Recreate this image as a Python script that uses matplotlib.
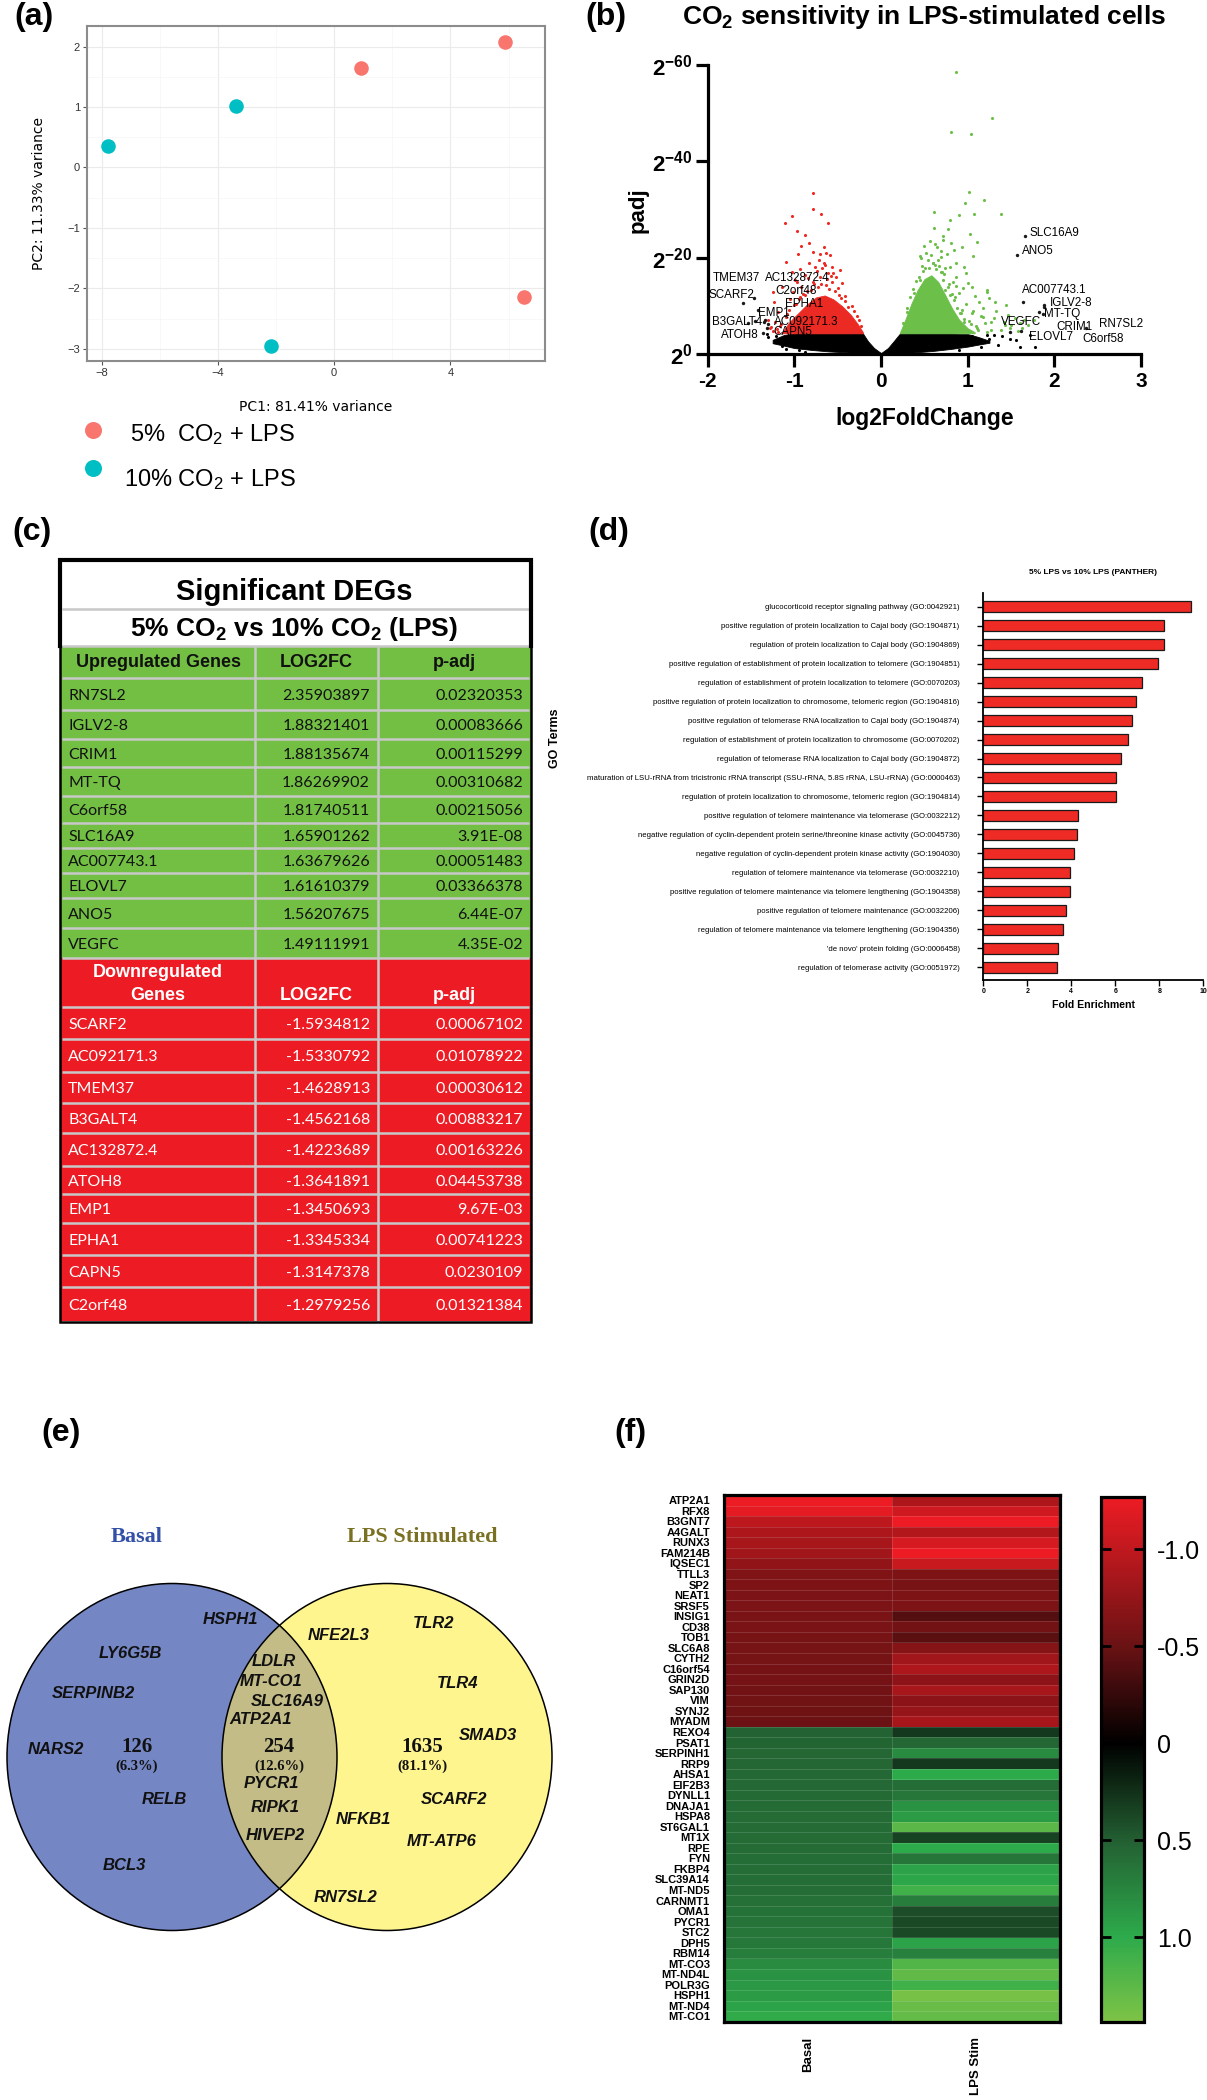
import numpy as np
import matplotlib
matplotlib.use('Agg')
import matplotlib.pyplot as plt
from matplotlib.patches import Ellipse, Rectangle
from matplotlib.colors import LinearSegmentedColormap, Normalize

W, H = 1207, 2100
plt.rcParams['font.family'] = ['Liberation Sans', 'DejaVu Sans']
plt.rcParams['mathtext.fontset'] = 'custom'
plt.rcParams['mathtext.rm'] = 'Liberation Sans'
plt.rcParams['mathtext.bf'] = 'Liberation Sans:bold'
plt.rcParams['mathtext.it'] = 'Liberation Sans:italic'
plt.rcParams['mathtext.sf'] = 'Liberation Sans'

# ======================= DATA =======================
# (a) PCA
pca_labels = ['5%  CO$_2$ + LPS', '10% CO$_2$ + LPS']
pca_pc1_5 = [0.91, 5.88, 6.53]
pca_pc2_5 = [1.64, 2.08, -2.14]
pca_pc1_10 = [-7.78, -3.38, -2.16]
pca_pc2_10 = [0.35, 1.02, -2.96]

# (c) table / (b) labelled genes
up_genes = ['RN7SL2', 'IGLV2-8', 'CRIM1', 'MT-TQ', 'C6orf58', 'SLC16A9',
            'AC007743.1', 'ELOVL7', 'ANO5', 'VEGFC']
up_lfc = ['2.35903897', '1.88321401', '1.88135674', '1.86269902', '1.81740511',
          '1.65901262', '1.63679626', '1.61610379', '1.56207675', '1.49111991']
up_padj = ['0.02320353', '0.00083666', '0.00115299', '0.00310682', '0.00215056',
           '3.91E-08', '0.00051483', '0.03366378', '6.44E-07', '4.35E-02']
down_genes = ['SCARF2', 'AC092171.3', 'TMEM37', 'B3GALT4', 'AC132872.4',
              'ATOH8', 'EMP1', 'EPHA1', 'CAPN5', 'C2orf48']
down_lfc = ['-1.5934812', '-1.5330792', '-1.4628913', '-1.4562168', '-1.4223689',
            '-1.3641891', '-1.3450693', '-1.3345334', '-1.3147378', '-1.2979256']
down_padj = ['0.00067102', '0.01078922', '0.00030612', '0.00883217', '0.00163226',
             '0.04453738', '9.67E-03', '0.00741223', '0.0230109', '0.01321384']

# (b) volcano: dense clouds (envelopes) and sparse points
black_x = [-1.25, -1.12, -1.0, -0.8, -0.6, -0.4, -0.21, -0.15, -0.08, 0.0,
           0.08, 0.15, 0.22, 0.4, 0.6, 0.8, 1.0, 1.12, 1.25]
black_top = [3.0, 4.0, 4.35, 4.35, 4.35, 4.35, 4.35, 2.7, 1.3, 0.25,
             1.3, 2.8, 4.35, 4.35, 4.35, 4.35, 4.2, 3.6, 2.8]
black_bot = [2.3, 1.8, 1.3, 0.9, 0.6, 0.4, 0.25, 0.15, 0.05, 0.0,
             0.05, 0.15, 0.25, 0.4, 0.7, 1.1, 1.6, 2.0, 2.4]
red_core_x = [-1.14, -1.05, -0.95, -0.85, -0.75, -0.65, -0.55, -0.45, -0.35, -0.27, -0.21]
red_core_top = [4.6, 6.8, 8.6, 10.4, 11.8, 12.2, 11.4, 10.0, 8.2, 6.3, 4.6]
green_core_x = [0.22, 0.28, 0.35, 0.42, 0.5, 0.58, 0.66, 0.74, 0.82, 0.9, 1.0, 1.08]
green_core_top = [4.6, 7.2, 10.5, 13.3, 15.6, 16.4, 15.0, 12.3, 9.5, 7.2, 5.4, 4.6]
red_pts_x = [-0.786, -0.786, -0.696, -1.031, -0.607, -1.112, -0.964, -0.875, -0.92, -0.66,
             -0.585, -0.83, -1.10, -0.72, -0.56, -1.03, -0.47, -1.14, -1.25, -1.23,
             -1.19, -1.30, -1.28, -1.19, -0.99, -0.92, -0.83, -0.76, -0.96, -0.65,
             -0.61, -0.52, -0.70, -0.62, -0.50, -0.42, -0.33, -0.28, -0.90, -1.00,
             -1.08, -1.15, -0.77, -0.85, -0.95, -0.58, -1.20, -1.25, -1.02, -0.88, -0.68,
             -1.10, -1.06, -0.98, -0.93, -0.88, -0.81, -0.79, -0.73, -0.69, -0.64,
             -0.60, -0.57, -0.53, -0.49, -0.46, -0.41, -0.38, -0.31, -0.25, -0.23,
             -1.17, -1.22, -1.27, -0.84, -0.74, -0.66, -0.93, -0.97, -0.55, -0.45,
             -1.05, -0.70, -0.78, -0.63]
red_pts_y = [33.5, 30.1, 29.0, 28.7, 27.3, 27.3, 25.6, 24.7, 22.5, 22.3,
             20.6, 23.0, 19.2, 19.6, 18.2, 17.1, 17.5, 14.0, 13.0, 10.9,
             8.85, 7.1, 5.4, 4.7, 15.4, 14.0, 18.9, 18.2, 20.9, 18.5,
             16.8, 16.1, 16.0, 15.7, 13.8, 12.0, 10.0, 8.0, 12.5, 10.2,
             8.3, 6.2, 14.6, 13.2, 11.4, 16.3, 5.2, 4.8, 13.0, 16.5, 17.8,
             7.8, 9.1, 10.4, 11.9, 12.3, 13.4, 14.9, 13.9, 14.6, 14.3,
             13.6, 14.9, 13.2, 12.3, 11.6, 11.0, 9.8, 8.9, 7.2, 5.8,
             5.9, 6.6, 5.7, 15.8, 17.2, 18.9, 17.6, 15.0, 16.8, 14.8,
             11.5, 20.8, 21.3, 21.0]
green_pts_x = [0.866, 1.277, 0.808, 1.036, 1.013, 1.188, 0.964, 0.607, 0.902, 1.067,
               1.379, 0.79, 0.777, 0.71, 1.031, 1.11, 0.933, 0.844, 1.058, 0.464,
               0.598, 0.799, 0.955, 0.688, 0.866, 1.0, 1.223, 0.821, 1.313, 1.134,
               1.446, 0.911, 1.045, 1.179, 1.469, 1.268, 1.424, 0.955, 1.112, 1.268,
               1.491, 1.603, 1.759, 1.22, 0.643, 0.554, 0.42, 0.732, 1.045, 0.643,
               0.688, 1.22, 0.30, 0.38, 0.45, 0.55, 0.62, 0.70, 0.78, 0.85,
               0.93, 1.02, 1.10, 0.48, 0.66, 0.74, 0.83, 0.90, 0.98, 1.15,
               1.20, 1.30, 1.38, 1.55, 1.62, 1.70, 0.52, 0.56, 0.69, 0.58, 0.76, 0.87,
               0.25, 0.30, 0.33, 0.37, 0.40, 0.44, 0.47, 0.51, 0.54, 0.60,
               0.63, 0.67, 0.71, 0.73, 0.77, 0.80, 0.84, 0.88, 0.92, 0.96,
               1.04, 1.12, 1.06, 0.95, 0.86, 0.45, 0.50, 0.62, 0.72, 0.81,
               0.61, 1.18, 1.25, 1.33, 1.42, 1.50, 1.58, 1.65, 0.98, 1.08]
green_pts_y = [58.6, 49.1, 46.2, 45.7, 33.6, 32.0, 31.4, 29.6, 28.9, 29.0,
               29.0, 27.9, 25.9, 23.8, 24.9, 23.2, 22.3, 21.6, 20.4, 19.9,
               18.9, 18.2, 18.2, 17.1, 16.1, 14.7, 13.0, 12.6, 10.9, 10.9,
               10.2, 8.5, 8.5, 7.8, 8.2, 6.8, 6.1, 6.8, 5.4, 5.0,
               5.4, 6.4, 7.1, 4.6, 9.2, 12.6, 9.2, 13.3, 14.0, 22.3,
               20.2, 13.3, 9.5, 12.8, 15.5, 18.0, 18.6, 17.0, 14.5, 11.8,
               9.2, 7.0, 5.8, 17.2, 19.5, 18.0, 15.0, 12.8, 10.5, 8.0,
               6.5, 7.6, 5.0, 7.5, 5.5, 6.0, 21.0, 23.5, 21.5, 20.5, 20.8, 19.0,
               6.4, 8.8, 11.9, 13.6, 15.2, 16.1, 18.4, 17.9, 19.6, 18.9,
               17.7, 18.3, 15.4, 16.6, 13.9, 12.4, 11.3, 9.5, 8.6, 7.3,
               6.3, 5.1, 8.9, 13.7, 14.2, 20.3, 22.5, 22.8, 24.5, 23.0,
               26.2, 9.7, 11.6, 9.0, 6.8, 6.0, 4.9, 7.2, 16.9, 12.1]
black_pts_x = [-1.143, -1.031, -0.92, 1.781, 1.482, 1.156, 1.223, 1.045, 0.955, -1.21,
               -1.32, -1.30, -1.22, -1.10, -0.95, 1.05, 1.25, 1.35, 1.40, 1.30,
               1.15, -0.88, 0.90, 1.56, 1.60, 1.72]
black_pts_y = [1.73, 3.0, 2.3, 1.6, 3.1, 3.0, 4.0, 3.7, 2.3, 3.7,
               4.2, 3.6, 2.6, 1.2, 0.8, 2.7, 3.2, 1.9, 3.8, 4.1,
               1.6, 0.5, 0.9, 2.9, 1.5, 4.1]

# (d) GO enrichment
go_terms = [
    'glucocorticoid receptor signaling pathway (GO:0042921)',
    'positive regulation of protein localization to Cajal body (GO:1904871)',
    'regulation of protein localization to Cajal body (GO:1904869)',
    'positive regulation of establishment of protein localization to telomere (GO:1904851)',
    'regulation of establishment of protein localization to telomere (GO:0070203)',
    'positive regulation of protein localization to chromosome, telomeric region (GO:1904816)',
    'positive regulation of telomerase RNA localization to Cajal body (GO:1904874)',
    'regulation of establishment of protein localization to chromosome (GO:0070202)',
    'regulation of telomerase RNA localization to Cajal body (GO:1904872)',
    'maturation of LSU-rRNA from tricistronic rRNA transcript (SSU-rRNA, 5.8S rRNA, LSU-rRNA) (GO:0000463)',
    'regulation of protein localization to chromosome, telomeric region (GO:1904814)',
    'positive regulation of telomere maintenance via telomerase (GO:0032212)',
    'negative regulation of cyclin-dependent protein serine/threonine kinase activity (GO:0045736)',
    'negative regulation of cyclin-dependent protein kinase activity (GO:1904030)',
    'regulation of telomere maintenance via telomerase (GO:0032210)',
    'positive regulation of telomere maintenance via telomere lengthening (GO:1904358)',
    'positive regulation of telomere maintenance (GO:0032206)',
    'regulation of telomere maintenance via telomere lengthening (GO:1904356)',
    "'de novo' protein folding (GO:0006458)",
    'regulation of telomerase activity (GO:0051972)']
go_fold = [9.42, 8.23, 8.23, 7.92, 7.20, 6.94, 6.77, 6.59, 6.26, 6.02,
           6.02, 4.32, 4.27, 4.14, 3.95, 3.94, 3.74, 3.62, 3.39, 3.36]

# (e) Venn
venn_sets = ['Basal', 'LPS Stimulated']
venn_counts = ['126', '254', '1635']
venn_pct = ['(6.3%)', '(12.6%)', '(81.1%)']
venn_genes = ['HSPH1', 'LY6G5B', 'SERPINB2', 'NARS2', 'RELB', 'BCL3',
              'LDLR', 'MT-CO1', 'SLC16A9', 'ATP2A1', 'PYCR1', 'RIPK1', 'HIVEP2',
              'NFE2L3', 'TLR2', 'TLR4', 'SMAD3', 'SCARF2', 'NFKB1', 'MT-ATP6', 'RN7SL2']

# (f) heatmap
heat_genes = ['ATP2A1', 'RFX8', 'B3GNT7', 'A4GALT', 'RUNX3', 'FAM214B', 'IQSEC1', 'TTLL3',
              'SP2', 'NEAT1', 'SRSF5', 'INSIG1', 'CD38', 'TOB1', 'SLC6A8', 'CYTH2',
              'C16orf54', 'GRIN2D', 'SAP130', 'VIM', 'SYNJ2', 'MYADM',
              'REXO4', 'PSAT1', 'SERPINH1', 'RRP9', 'AHSA1', 'EIF2B3', 'DYNLL1', 'DNAJA1',
              'HSPA8', 'ST6GAL1', 'MT1X', 'RPE', 'FYN', 'FKBP4', 'SLC39A14', 'MT-ND5',
              'CARNMT1', 'OMA1', 'PYCR1', 'STC2', 'DPH5', 'RBM14', 'MT-CO3', 'MT-ND4L',
              'POLR3G', 'HSPH1', 'MT-ND4', 'MT-CO1']
heat_cols = ['Basal', 'LPS Stim']
heat_basal = [-1.27, -1.22, -0.99, -0.90, -0.85, -0.82, -0.73, -0.63, -0.62, -0.61,
              -0.61, -0.60, -0.60, -0.59, -0.58, -0.58, -0.57, -0.57, -0.56, -0.55,
              -0.54, -0.53,
              0.52, 0.53, 0.55, 0.55, 0.56, 0.56, 0.57, 0.58, 0.58, 0.58,
              0.58, 0.58, 0.59, 0.60, 0.60, 0.60, 0.62, 0.63, 0.64, 0.65,
              0.67, 0.70, 0.80, 0.85, 0.88, 0.90, 0.95, 1.02]
heat_lps = [-0.90, -1.10, -1.27, -0.93, -1.13, -1.27, -1.05, -0.62, -0.59, -0.62,
            -0.62, -0.40, -0.56, -0.43, -0.66, -0.82, -0.90, -0.71, -0.85, -0.71,
            -0.76, -0.85,
            0.30, 0.55, 0.80, 0.30, 1.00, 0.60, 0.65, 0.85, 0.90, 1.25,
            0.35, 1.00, 0.65, 0.95, 0.98, 1.10, 0.70, 0.40, 0.38, 0.38,
            0.95, 0.72, 1.20, 1.28, 1.10, 1.40, 1.32, 1.30]

# ======================= FIGURE =======================
fig = plt.figure(figsize=(W / 100, H / 100), dpi=100)


def px_axes(x0, y0, x1, y1):
    return fig.add_axes([x0 / W, 1 - y1 / H, (x1 - x0) / W, (y1 - y0) / H])


def ftext(x, y, s, **kw):
    return fig.text(x / W, 1 - y / H, s, **kw)


# panel letters
for lab, x, y in [('(a)', 14, 17), ('(b)', 585, 17), ('(c)', 12, 532),
                  ('(d)', 588, 532), ('(e)', 41, 1433), ('(f)', 614, 1433)]:
    ftext(x, y, lab, fontsize=23, fontweight='bold', ha='left', va='center')

# ---------------- (a) PCA ----------------
RED_A, TEAL_A = '#F8766D', '#00BFC4'
ax = px_axes(87, 26, 545, 361)
ax.set_xlim(-8.5, 7.25)
ax.set_ylim(-3.2, 2.34)
ax.set_xticks([-8, -4, 0, 4])
ax.set_yticks([-3, -2, -1, 0, 1, 2])
ax.set_xticks([-6, -2, 2, 6], minor=True)
ax.set_yticks([-2.5, -1.5, -0.5, 0.5, 1.5], minor=True)
ax.grid(which='major', color='#EBEBEB', lw=0.8)
ax.grid(which='minor', color='#F5F5F5', lw=0.5)
ax.set_axisbelow(True)
ax.tick_params(which='major', length=3, width=0.8, color='#555555', labelsize=8,
               labelcolor='#333333', pad=2)
ax.tick_params(which='minor', length=0)
for sp in ax.spines.values():
    sp.set_color('#8C8C8C')
    sp.set_linewidth(1.5)
ax.scatter(pca_pc1_5, pca_pc2_5, s=110, color=RED_A, lw=0, zorder=3)
ax.scatter(pca_pc1_10, pca_pc2_10, s=110, color=TEAL_A, lw=0, zorder=3)
ax.set_ylabel('PC2: 11.33% variance', fontsize=10, family='DejaVu Sans')
ax.yaxis.set_label_coords((46.5 - 87) / 458, 0.5)
ftext(316, 407, 'PC1: 81.41% variance', fontsize=10, family='DejaVu Sans',
      ha='center', va='center')
# legend
axl = px_axes(60, 415, 320, 495)
axl.set_xlim(60, 320)
axl.set_ylim(495, 415)
axl.axis('off')
axl.scatter([93], [430], s=150, color=RED_A, lw=0)
axl.scatter([93], [468], s=150, color=TEAL_A, lw=0)
axl.text(130, 441.5, pca_labels[0], fontsize=17, va='baseline', ha='left')
axl.text(124, 486.5, pca_labels[1], fontsize=17, va='baseline', ha='left')

# ---------------- (b) volcano ----------------
RED_V, GREEN_V = '#EC2A24', '#6CC04A'
axv = px_axes(707.6, 65, 1141.2, 354.3)
axv.set_xlim(-2, 3)
axv.set_ylim(0, 60)
axv.fill_between(black_x, black_bot, black_top, color='black', lw=0.6, zorder=1)
axv.fill_between(red_core_x, 4.35, red_core_top, color=RED_V, lw=0.6, zorder=1)
axv.fill_between(green_core_x, 4.35, green_core_top, color=GREEN_V, lw=0.6, zorder=1)
axv.scatter(red_pts_x, red_pts_y, s=5, color=RED_V, lw=0, zorder=2)
axv.scatter(green_pts_x, green_pts_y, s=5, color=GREEN_V, lw=0, zorder=2)
axv.scatter(black_pts_x, black_pts_y, s=5, color='black', lw=0, zorder=2)
lab_genes = up_genes + down_genes
lab_x = [float(v) for v in up_lfc + down_lfc]
lab_y = [-np.log2(float(v)) for v in up_padj + down_padj]
axv.scatter(lab_x, lab_y, s=6, color='#1A1A1A', lw=0, zorder=4, clip_on=False)
volcano_label_pos = {
    'SLC16A9': (1.714, 25.2), 'ANO5': (1.625, 21.4), 'AC007743.1': (1.625, 13.3),
    'IGLV2-8': (1.95, 10.6), 'MT-TQ': (1.884, 8.3), 'VEGFC': (1.38, 6.6),
    'CRIM1': (2.027, 5.7), 'RN7SL2': (2.518, 6.3), 'ELOVL7': (1.705, 3.5),
    'C6orf58': (2.326, 3.2), 'TMEM37': (-1.937, 15.9), 'AC132872.4': (-1.344, 15.8),
    'SCARF2': (-1.99, 12.3), 'C2orf48': (-1.223, 13.1), 'EPHA1': (-1.11, 10.4),
    'EMP1': (-1.42, 8.6), 'B3GALT4': (-1.946, 6.7), 'AC092171.3': (-1.232, 6.7),
    'CAPN5': (-1.246, 4.7), 'ATOH8': (-1.848, 4.0)}
for g in lab_genes:
    x, y = volcano_label_pos[g]
    axv.text(x, y, g, fontsize=8.4, ha='left', va='center', zorder=5, clip_on=False)
for s in ['top', 'right']:
    axv.spines[s].set_visible(False)
for s in ['left', 'bottom']:
    axv.spines[s].set_linewidth(2.3)
axv.set_xticks([-2, -1, 0, 1, 2, 3])
axv.set_xticklabels(['-2', '-1', '0', '1', '2', '3'])
axv.set_yticks([0, 20, 40, 60])
axv.set_yticklabels([r'$\mathbf{2^{0}}$', r'$\mathbf{2^{-20}}$',
                     r'$\mathbf{2^{-40}}$', r'$\mathbf{2^{-60}}$'])
axv.tick_params(direction='out', length=9, width=2.3, labelsize=15)
for t in axv.get_xticklabels():
    t.set_fontweight('bold')
axv.tick_params(axis='y', labelsize=16, pad=2)
ftext(924, 17, r'CO$_\mathbf{2}$ sensitivity in LPS-stimulated cells', fontsize=19,
      fontweight='bold', ha='center', va='center')
ftext(925, 418, 'log2FoldChange', fontsize=16.5, fontweight='bold', ha='center', va='center')
ftext(638, 210, 'padj', fontsize=16, fontweight='bold', ha='center', va='center',
      rotation=90)

# ---------------- (c) table ----------------
GREEN_T, RED_T, GRID_T = '#72BF44', '#ED1C24', '#C8C8C8'
axt = px_axes(0, 500, 640, 1340)
axt.set_xlim(0, 640)
axt.set_ylim(1340, 500)
axt.axis('off')
TL, TR = 59.5, 531
col_sep = [255, 378]
green_edges = [646, 678, 710, 739, 767, 796, 823, 848, 873, 898, 928, 958]
red_edges = [958, 1007, 1039, 1072, 1103, 1133, 1166, 1194, 1223, 1255, 1287, 1321]
axt.add_patch(Rectangle((TL, 560), TR - TL, 86, fc='white', ec='none'))
axt.add_patch(Rectangle((TL, 646), TR - TL, 958 - 646, fc=GREEN_T, ec='none'))
axt.add_patch(Rectangle((TL, 958), TR - TL, 1321 - 958, fc=RED_T, ec='none'))
for y in [609, 646] + green_edges[1:-1] + [958] + red_edges[1:-1]:
    axt.plot([TL + 2, TR - 2], [y, y], color=GRID_T, lw=1.8, solid_capstyle='butt')
for x in col_sep:
    axt.plot([x, x], [646, 1321], color=GRID_T, lw=1.8, solid_capstyle='butt')
# borders
axt.plot([TL, TL, TR, TR], [646, 560, 560, 646], color='black', lw=3.0,
         solid_joinstyle='miter')
axt.plot([TL, TL, TR, TR], [646, 1322, 1322, 646], color='black', lw=1.8,
         solid_joinstyle='miter')
axt.text(294, 592, 'Significant DEGs', fontsize=21, fontweight='bold',
         ha='center', va='center')
axt.text(294, 629, '5% CO$_\\mathbf{2}$ vs 10% CO$_\\mathbf{2}$ (LPS)', fontsize=19,
         fontweight='bold', ha='center', va='center')
col_centers = [158, 316, 454]
for txt, cx in zip(['Upregulated Genes', 'LOG2FC', 'p-adj'], col_centers):
    axt.text(cx, 663, txt, fontsize=13, fontweight='bold', ha='center', va='center',
             color='#111111')
axt.text(col_centers[0], 973, 'Downregulated', fontsize=13, fontweight='bold',
         ha='center', va='center', color='white')
for txt, cx in zip(['Genes', 'LOG2FC', 'p-adj'], col_centers):
    axt.text(cx, 996, txt, fontsize=13, fontweight='bold', ha='center', va='center',
             color='white')
TFONT = ['Lato', 'Liberation Sans']
for i in range(len(up_genes)):
    yc = (green_edges[i + 1] + green_edges[i + 2]) / 2 + 2
    axt.text(68, yc, up_genes[i], fontsize=11.5, family=TFONT, ha='left', va='center',
             color='#111111')
    axt.text(370, yc, up_lfc[i], fontsize=11.5, family=TFONT, ha='right', va='center',
             color='#111111')
    axt.text(523, yc, up_padj[i], fontsize=11.5, family=TFONT, ha='right', va='center',
             color='#111111')
for i in range(len(down_genes)):
    yc = (red_edges[i + 1] + red_edges[i + 2]) / 2 + 2
    axt.text(68, yc, down_genes[i], fontsize=11.5, family=TFONT, ha='left', va='center',
             color='white')
    axt.text(370, yc, down_lfc[i], fontsize=11.5, family=TFONT, ha='right', va='center',
             color='white')
    axt.text(523, yc, down_padj[i], fontsize=11.5, family=TFONT, ha='right', va='center',
             color='white')

# ---------------- (d) GO bars ----------------
axd = px_axes(983.3, 593, 1203.3, 980)
ypos = np.arange(len(go_terms))
axd.barh(ypos, go_fold, height=0.58, color='#EE2B24', edgecolor='#1A1A1A', lw=0.9)
axd.set_xlim(0, 10)
axd.set_ylim(19.67, -0.72)
axd.set_yticks(ypos)
axd.set_yticklabels(go_terms, fontsize=5.6)
axd.set_xticks([0, 2, 4, 6, 8, 10])
axd.tick_params(axis='y', length=4, width=1, pad=13)
axd.tick_params(axis='x', length=4, width=1, labelsize=5, pad=2)
for t in axd.get_xticklabels():
    t.set_fontweight('bold')
for s in ['top', 'right']:
    axd.spines[s].set_visible(False)
for s in ['left', 'bottom']:
    axd.spines[s].set_linewidth(1.3)
ftext(1093, 573, '5% LPS vs 10% LPS (PANTHER)', fontsize=6, fontweight='bold',
      ha='center', va='center')
ftext(1093, 1005, 'Fold Enrichment', fontsize=7.6, fontweight='bold', ha='center',
      va='center')
ftext(555, 738, 'GO Terms', fontsize=9, fontweight='bold', ha='center', va='center',
      rotation=90)

# ---------------- (e) Venn ----------------
axe = px_axes(0, 1460, 640, 2000)
axe.set_xlim(0, 640)
axe.set_ylim(2000, 1460)
axe.axis('off')
BLUE_E, YEL_E, OVL_E = '#7586C4', '#FFF58F', '#C3BC87'
e_blue = Ellipse((172, 1757), 330, 347, fc=BLUE_E, ec='none', zorder=1)
e_yel = Ellipse((387, 1757), 330, 347, fc=YEL_E, ec='none', zorder=1)
axe.add_patch(e_blue)
axe.add_patch(e_yel)
e_ovl = Ellipse((387, 1757), 330, 347, fc=OVL_E, ec='none', zorder=2)
axe.add_patch(e_ovl)
e_ovl.set_clip_path(e_blue)
for c in [(172, 1757), (387, 1757)]:
    axe.add_patch(Ellipse(c, 330, 347, fc='none', ec='black', lw=1.1, zorder=3))
axe.text(137, 1537, venn_sets[0], fontsize=16, fontweight='bold',
         family='Liberation Serif', color='#3250A8', ha='center', va='center')
axe.text(422, 1537, venn_sets[1], fontsize=16, fontweight='bold',
         family='Liberation Serif', color='#7A7022', ha='center', va='center')
count_pos = [(137, 1747), (279, 1747), (422, 1747)]
for (x, y), c, p in zip(count_pos, venn_counts, venn_pct):
    axe.text(x, y, c, fontsize=15, fontweight='bold', family='Liberation Serif',
             ha='center', va='center', zorder=4, color='#111111')
    axe.text(x, y + 19, p, fontsize=10.5, fontweight='bold', family='Liberation Serif',
             ha='center', va='center', zorder=4, color='#111111')
venn_gene_pos = [(230.6, 1619), (130, 1653), (93, 1693), (56, 1749), (164, 1799),
                 (124.5, 1866), (274, 1661), (271, 1682), (287, 1701), (261, 1720),
                 (271, 1784), (275.5, 1808), (275, 1836), (339, 1635), (434, 1623),
                 (458, 1684), (488, 1736), (454, 1800), (363, 1820), (442, 1841),
                 (346, 1897)]
for g, (x, y) in zip(venn_genes, venn_gene_pos):
    axe.text(x, y, g, fontsize=12, fontweight='bold', fontstyle='italic',
             ha='center', va='center', zorder=4, color='#111111')

# ---------------- (f) heatmap ----------------
vmin, vmax = -1.272, 1.436
def vpos(v):
    return (v - vmin) / (vmax - vmin)
cmap = LinearSegmentedColormap.from_list('rg', [
    (vpos(-1.272), (237 / 255, 28 / 255, 36 / 255)),
    (vpos(-0.5), (105 / 255, 18 / 255, 20 / 255)),
    (vpos(0.0), (0, 0, 0)),
    (vpos(0.5), (35 / 255, 95 / 255, 50 / 255)),
    (vpos(1.0), (45 / 255, 170 / 255, 75 / 255)),
    (vpos(1.436), (125 / 255, 195 / 255, 70 / 255))])
axh = px_axes(723.8, 1495, 1059.7, 2021.7)
mat = np.column_stack([heat_basal, heat_lps])
n = len(heat_genes)
im = axh.imshow(mat, cmap=cmap, norm=Normalize(vmin, vmax), aspect='auto',
                interpolation='nearest', extent=(-0.5, 1.5, n - 0.5, -0.5))
for i in range(1, n):
    axh.axhline(i - 0.5, color=(1, 1, 1, 0.16), lw=0.6)
axh.axvline(0.5, color=(1, 1, 1, 0.16), lw=0.6)
axh.set_yticks(np.arange(n))
axh.set_yticklabels(heat_genes, fontsize=8, fontweight='bold')
axh.set_xticks([0, 1])
axh.set_xticklabels(heat_cols, fontsize=9.5, fontweight='bold', rotation=90)
axh.tick_params(length=0)
axh.tick_params(axis='y', pad=10)
axh.tick_params(axis='x', pad=11)
for sp in axh.spines.values():
    sp.set_linewidth(2.3)
cax = px_axes(1100.8, 1496.7, 1144.3, 2021.7)
cb = fig.colorbar(im, cax=cax)
cb.set_ticks([-1.0, -0.5, 0, 0.5, 1.0])
cb.set_ticklabels(['-1.0', '-0.5', '0', '0.5', '1.0'])
cax.invert_yaxis()
cb.outline.set_linewidth(2.3)
cax.tick_params(direction='in', length=7, width=2, left=True, right=True,
                labelsize=18, pad=9)

fig.savefig('out.png', dpi=100)
